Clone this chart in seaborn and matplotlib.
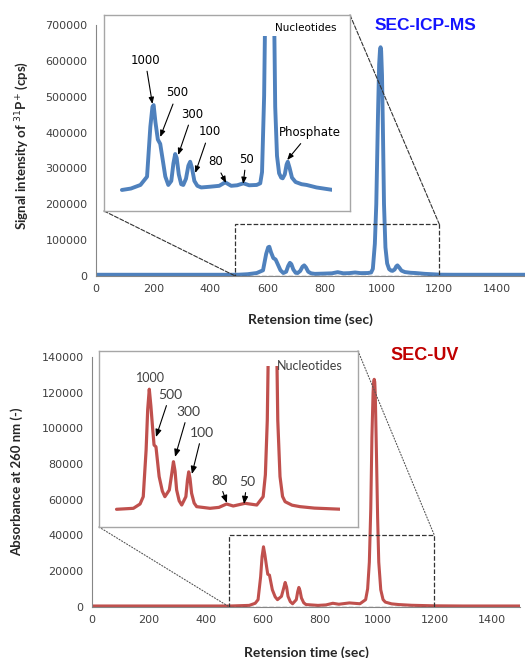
"""
SEC-ICP-MS vs SEC-UV chromatograms with zoomed insets.
"""

import matplotlib
matplotlib.use("Agg")
import matplotlib.pyplot as plt
from matplotlib.patches import Rectangle, ConnectionPatch
import seaborn as sns
import numpy as np

W, H = 525, 658

COLOR_ICP = "#4F81BD"
COLOR_UV = "#C0504D"
AXIS_GRAY = "#868686"
TEXT_GRAY = "#404040"

# SEC-ICP-MS: retention time (sec) and 31P+ signal (cps)
icp_time = [0, 100, 200, 300, 400, 480, 500, 530, 562, 584, 595, 602, 606, 612, 620,
            628, 636, 645, 655, 665, 672, 678, 683, 690, 698, 705, 714, 722, 728, 734,
            742, 752, 765, 795, 825, 845, 865, 885, 906, 925, 950, 962, 968, 975, 980,
            986, 990, 993, 995, 997, 1000, 1003, 1007, 1012, 1018, 1025, 1032, 1037,
            1044, 1050, 1054, 1060, 1068, 1080, 1100, 1117, 1150, 1205, 1250, 1300,
            1400, 1500]
icp_signal = [3500, 3500, 3500, 3500, 3500, 3500, 3700, 5000, 8300, 15900, 61700, 80000,
              81600, 66000, 50000, 46000, 32000, 16000, 8300, 12000, 28000, 36700, 33000,
              18000, 9000, 8300, 14000, 26000, 29600, 24000, 12000, 7500, 6000, 6700, 7500,
              10700, 7500, 8000, 9800, 8000, 8300, 9800, 20000, 90000, 200000, 450000,
              590000, 630000, 638000, 628000, 560000, 420000, 200000, 80000, 35000, 19000,
              15000, 14400, 18000, 27000, 29600, 24000, 15000, 11000, 9000, 8300, 6000,
              3700, 3500, 3500, 3500, 3500]

# SEC-UV: retention time (sec) and absorbance at 260 nm
uv_time = [0, 100, 200, 300, 400, 480, 498, 551, 572, 582, 591, 596, 601, 606, 612, 616,
           622, 632, 642, 650, 664, 672, 677, 682, 687, 695, 703, 716, 721, 725, 729, 734,
           742, 750, 792, 820, 844, 865, 902, 939, 959, 966, 972, 977, 981, 985, 987, 989,
           991, 993, 997, 1001, 1005, 1012, 1020, 1028, 1050, 1075, 1120, 1200, 1300, 1400,
           1500]
uv_abs = [400, 400, 400, 400, 400, 400, 470, 740, 1930, 3950, 16800, 28000, 33600, 29000,
          22300, 18200, 17700, 9500, 5500, 3950, 5800, 10500, 13600, 11000, 5800, 2800,
          1650, 3950, 8500, 10800, 9000, 4900, 2200, 1200, 740, 1000, 1930, 1380, 2120,
          1650, 3950, 10000, 25000, 55000, 95000, 120000, 126000, 127500, 126000, 118000,
          85000, 50000, 25000, 9500, 4000, 2570, 1600, 1200, 800, 500, 400, 400, 400]

x_ticks = [0, 200, 400, 600, 800, 1000, 1200, 1400]
icp_yticks = [0, 100000, 200000, 300000, 400000, 500000, 600000, 700000]
uv_yticks = [0, 20000, 40000, 60000, 80000, 100000, 120000, 140000]

# zoom windows (x range, y top)
icp_zoom = (487, 1200, 145000)
uv_zoom = (480, 1200, 40000)

# inset labels: text, text position, arrow tip (None = no arrow)
icp_labels = [
    ("1000", (578, 122900), (602, 82600)),
    ("500", (685, 92700), (628, 52300)),
    ("300", (735, 73400), (688, 35800)),
    ("100", (792, 56900), (745, 19300)),
    ("80", (812, 29400), (848, 10100)),
    ("50", (915, 32100), (905, 9200)),
    ("Phosphate", (1127, 56200), (1052, 31200)),
    ("Nucleotides", (1115, 152300), None),
]
uv_labels = [
    ("1000", (606, 36700), None),
    ("500", (666, 32000), (622, 20400)),
    ("300", (723, 27300), (682, 14900)),
    ("100", (767, 21500), (735, 10200)),
    ("80", (820, 8300), (845, 2200)),
    ("50", (908, 8000), (899, 1900)),
    ("Nucleotides", (1106, 40100), None),
]


def px_box(left, top, right, bottom):
    return [left / W, 1 - bottom / H, (right - left) / W, (bottom - top) / H]


sns.set_style("white")
plt.rcParams["font.family"] = ["DejaVu Sans"]

fig = plt.figure(figsize=(W / 100, H / 100), dpi=100)


def main_axes(box, t, v, color, lw, yticks, ylabel, label_x, label_y):
    ax = fig.add_axes(px_box(*box))
    sns.lineplot(x=t, y=v, ax=ax, color=color, lw=lw, sort=False, estimator=None)
    ax.set_xlim(0, 1500)
    ax.set_ylim(0, yticks[-1])
    ax.set_xticks(x_ticks)
    ax.set_yticks(yticks)
    ax.ticklabel_format(axis="y", style="plain")
    for s in ["top", "right"]:
        ax.spines[s].set_visible(False)
    for s in ["left", "bottom"]:
        ax.spines[s].set_color(AXIS_GRAY)
        ax.spines[s].set_linewidth(0.8)
    ax.tick_params(direction="out", length=3, width=0.8, color=AXIS_GRAY,
                   labelcolor=TEXT_GRAY, labelsize=8, pad=3)
    ax.set_xlabel("Retension time (sec)", fontsize=10, fontweight="bold",
                  family="Lato", color="#262626")
    ax.set_ylabel(ylabel, fontsize=9.5, fontweight="bold", family="Lato",
                  color="#262626")
    ax.yaxis.set_label_coords(label_x, label_y)
    return ax


ax1 = main_axes((96, 25, 525, 276), icp_time, icp_signal, COLOR_ICP, 2.8,
                icp_yticks, "Signal intensity of $^{31}$P$^{+}$ (cps)", -0.152, 0.52)
ax1.xaxis.set_label_coords(0.5, -0.147)
ax2 = main_axes((92, 357, 520, 606.7), uv_time, uv_abs, COLOR_UV, 2.2,
                uv_yticks, "Absorbance at 260 nm (-)", -0.161, 0.5)
ax2.xaxis.set_label_coords(0.5, -0.157)

fig.text(425 / W, 1 - 26 / H, "SEC-ICP-MS", color="#1414FF", fontsize=12.5,
         fontweight="bold", family="Liberation Sans", ha="center", va="center")
fig.text(425 / W, 1 - 356 / H, "SEC-UV", color="#C00000", fontsize=13,
         fontweight="bold", family="Liberation Sans", ha="center", va="center")


def inset(ax_main, frame_box, plot_box, zoom, t, v, color, lw, labels,
          fsize, fcolor, ffamily, link_style, link_color):
    x0, x1, ytop = zoom
    # dashed zoom window on the main chart
    ax_main.add_patch(Rectangle((x0, 0), x1 - x0, ytop, fill=False, ls="--",
                                lw=0.9, ec="#333333", zorder=5))
    frame = fig.add_axes(px_box(*frame_box), zorder=3)
    frame.set_xticks([])
    frame.set_yticks([])
    frame.set_facecolor("white")
    for s in frame.spines.values():
        s.set_color("#A6A6A6")
        s.set_linewidth(1.0)

    ins = fig.add_axes(px_box(*plot_box), zorder=4)
    ins.patch.set_alpha(0)
    ins.axis("off")
    mask = np.array(t) >= 495
    sns.lineplot(x=np.array(t)[mask], y=np.array(v)[mask], ax=ins, color=color,
                 lw=lw, sort=False, estimator=None)
    ins.set_xlim(x0, x1)
    ins.set_ylim(0, ytop)

    for text, pos, tip in labels:
        if tip is None:
            ins.text(pos[0], pos[1], text, fontsize=fsize - 1, color=fcolor,
                     family=ffamily, ha="center", va="center", clip_on=False)
        else:
            ins.annotate(text, xy=tip, xytext=pos, fontsize=fsize, color=fcolor,
                         family=ffamily, ha="center", va="center",
                         annotation_clip=False,
                         arrowprops=dict(arrowstyle="-|>,head_length=0.45,head_width=0.18",
                                         color="black", lw=0.8, shrinkA=1, shrinkB=0))

    for corner, point in [((0, 0), (x0, 0)), ((1, 1), (x1, ytop))]:
        con = ConnectionPatch(xyA=corner, coordsA=frame.transAxes, xyB=point,
                              coordsB=ax_main.transData, ls=link_style, lw=0.8,
                              color=link_color, zorder=2)
        fig.add_artist(con)


inset(ax1, (104, 15, 350, 211), (118, 36, 331.5, 194), icp_zoom, icp_time, icp_signal,
      COLOR_ICP, 2.8, icp_labels, 8.5, "black", "DejaVu Sans", "--", "#333333")
inset(ax2, (99, 351, 358, 527), (110.8, 366, 339.8, 511), uv_zoom, uv_time, uv_abs,
      COLOR_UV, 2.3, uv_labels, 10, TEXT_GRAY, "Lato", ":", "#555555")

fig.savefig("out.png", dpi=100)
